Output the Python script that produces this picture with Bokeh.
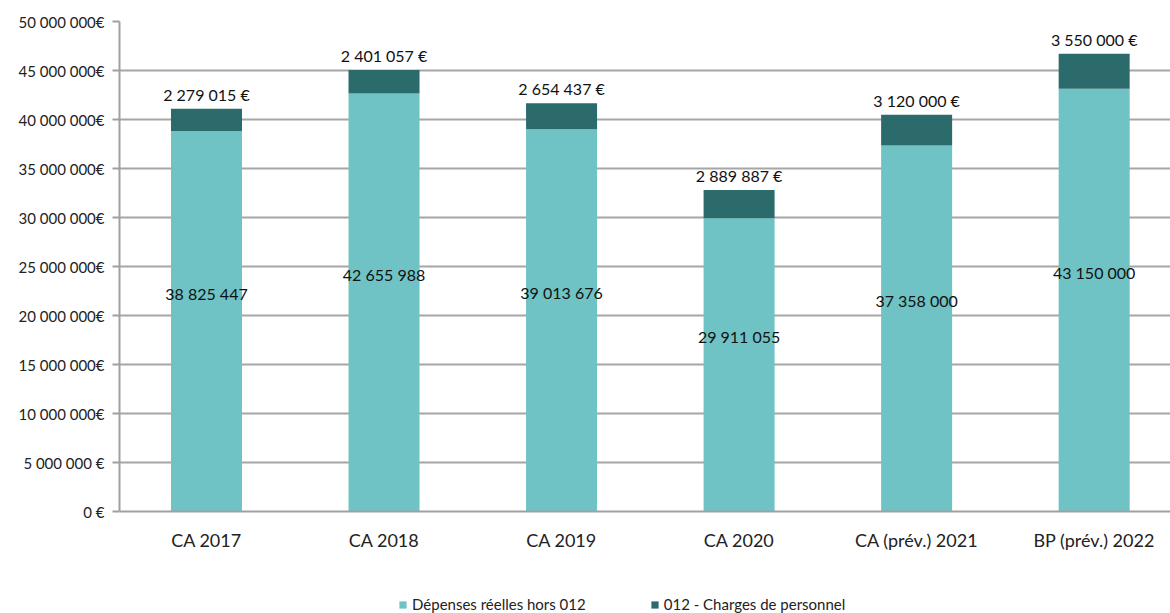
from bokeh.plotting import figure
from bokeh.layouts import column
from bokeh.models import ColumnDataSource, FixedTicker, Legend, LegendItem, LabelSet, Range1d
from bokeh.core.properties import value
from bokeh.embed import file_html
from bokeh.resources import INLINE

categories = ["CA 2017", "CA 2018", "CA 2019", "CA 2020", "CA (prév.) 2021", "BP (prév.) 2022"]
depenses = [38825447, 42655988, 39013676, 29911055, 37358000, 43150000]
personnel = [2279015, 2401057, 2654437, 2889887, 3120000, 3550000]
series_names = ["Dépenses réelles hors 012", "012 - Charges de personnel"]
y_ticks = [0, 5000000, 10000000, 15000000, 20000000, 25000000, 30000000, 35000000, 40000000, 45000000, 50000000]
y_tick_labels = ["0 €", "5 000 000 €", "10 000 000€", "15 000 000€", "20 000 000€", "25 000 000€",
                 "30 000 000€", "35 000 000€", "40 000 000€", "45 000 000€", "50 000 000€"]

LIGHT = "#6FC3C5"
DARK = "#2C6B6C"
FONT = "Lato"

def fmt(v):
    return f"{v:,}".replace(",", " ")

xs = list(range(len(categories)))
src = ColumnDataSource(dict(
    x=xs,
    dep=depenses,
    pers=personnel,
    dep_mid=[d / 2 for d in depenses],
    total=[d + p for d, p in zip(depenses, personnel)],
    dep_lbl=[fmt(d) for d in depenses],
    pers_lbl=[fmt(p) + " €" for p in personnel],
))

p = figure(x_range=Range1d(-0.49, 5.43), y_range=(0, 50000000), width=1170, height=585,
           output_backend="svg", toolbar_location=None,
           min_border_left=119, min_border_right=0, min_border_top=21, min_border_bottom=74)
p.outline_line_color = None
p.background_fill_color = "white"

r = p.vbar_stack(["dep", "pers"], x="x", width=0.4, source=src,
                 color=[LIGHT, DARK], line_color=None)

# y axis
p.yaxis.ticker = FixedTicker(ticks=y_ticks)
p.yaxis.major_label_overrides = {t: l for t, l in zip(y_ticks, y_tick_labels)}
p.yaxis.major_label_text_font = FONT
p.yaxis.major_label_text_font_size = "15px"
p.yaxis.major_label_text_color = "#222222"
p.yaxis.axis_line_color = "#A0A0A0"
p.yaxis.axis_line_width = 2
p.yaxis.major_tick_line_color = "#A0A0A0"
p.yaxis.major_tick_line_width = 2
p.yaxis.major_tick_out = 7
p.yaxis.major_tick_in = 0
p.yaxis.minor_tick_line_color = None
p.yaxis.major_label_standoff = 8

# x axis
p.xaxis.ticker = FixedTicker(ticks=xs)
p.xaxis.major_label_overrides = {i: c for i, c in zip(xs, categories)}
p.xaxis.axis_line_color = "#A0A0A0"
p.xaxis.axis_line_width = 2
p.xaxis.major_tick_line_color = None
p.xaxis.major_tick_out = 0
p.xaxis.major_tick_in = 0
p.xaxis.minor_tick_line_color = None
p.xaxis.major_label_text_font = FONT
p.xaxis.major_label_text_font_size = "18px"
p.xaxis.major_label_text_color = "#222222"
p.xaxis.major_label_standoff = 17

p.xgrid.grid_line_color = None
p.ygrid.grid_line_color = "#A6A6A6"
p.ygrid.grid_line_width = 2

# labels
lab_dep = LabelSet(x="x", y="dep_mid", text="dep_lbl", source=src,
                   text_align="center", text_baseline="middle", y_offset=28,
                   text_font=value(FONT), text_font_size="16px", text_color="#111111")
lab_pers = LabelSet(x="x", y="total", text="pers_lbl", source=src,
                    text_align="center", text_baseline="bottom", y_offset=5,
                    text_font=value(FONT), text_font_size="16px", text_color="#111111")
p.add_layout(lab_dep)
p.add_layout(lab_pers)

# legend in a slim figure below (proxy bars kept out of view)
lg = figure(width=1170, height=28, output_backend="svg", toolbar_location=None,
            x_range=(-101, -100), y_range=(10, 11),
            x_axis_location=None, y_axis_location=None,
            min_border_left=0, min_border_right=0, min_border_top=0, min_border_bottom=0)
lg.grid.visible = False
lg.outline_line_color = None
r1 = lg.vbar(x="x", top="dep", width=0.4, source=src, color=LIGHT, line_color=None)
r2 = lg.vbar(x="x", top="pers", width=0.4, source=src, color=DARK, line_color=None)
legend = Legend(items=[LegendItem(label=series_names[0], renderers=[r1]),
                       LegendItem(label=series_names[1], renderers=[r2])],
                orientation="horizontal", location=(279, 0),
                label_text_font=FONT, label_text_font_size="15px", label_text_color="#222222",
                glyph_width=9, glyph_height=9, spacing=64, border_line_color=None,
                background_fill_alpha=0, padding=1, label_standoff=5, margin=0,
                label_height=15)
lg.add_layout(legend)

layout = column(p, lg, spacing=0)
open("out.html", "w").write(file_html(layout, INLINE))
